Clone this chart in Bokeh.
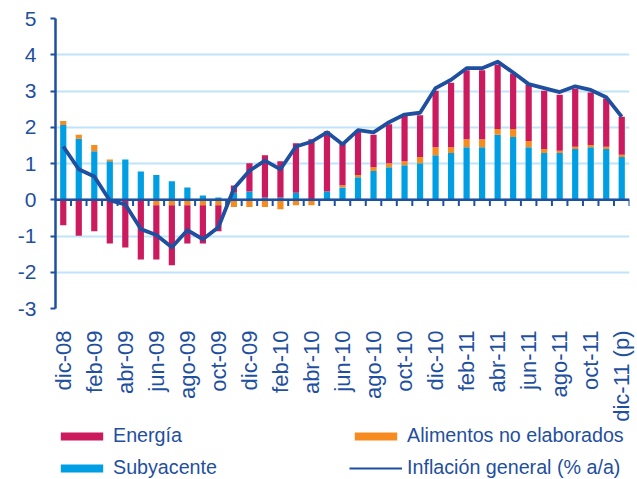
import math
from bokeh.plotting import figure
from bokeh.layouts import column
from bokeh.models import ColumnDataSource, FixedTicker, Span, Legend, LegendItem
from bokeh.embed import file_html
from bokeh.resources import INLINE

months = ["dic-08", "ene-09", "feb-09", "mar-09", "abr-09", "may-09", "jun-09", "jul-09",
          "ago-09", "sep-09", "oct-09", "nov-09", "dic-09", "ene-10", "feb-10", "mar-10",
          "abr-10", "may-10", "jun-10", "jul-10", "ago-10", "sep-10", "oct-10", "nov-10",
          "dic-10", "ene-11", "feb-11", "mar-11", "abr-11", "may-11", "jun-11", "jul-11",
          "ago-11", "sep-11", "oct-11", "nov-11", "dic-11 (p)"]

subyacente = [2.06, 1.68, 1.34, 1.06, 1.11, 0.78, 0.68, 0.51, 0.34, 0.12, 0.06, 0.19,
              0.23, 0.06, 0.06, 0.19, 0.00, 0.23, 0.34, 0.62, 0.79, 0.90, 0.95, 1.01,
              1.23, 1.29, 1.45, 1.45, 1.79, 1.73, 1.45, 1.29, 1.29, 1.40, 1.45, 1.40, 1.18]

alimentos = [0.11, 0.11, 0.17, 0.05, 0.00, 0.00, -0.15, -0.15, -0.15, -0.15, -0.15, -0.20,
             -0.20, -0.20, -0.26, -0.15, -0.15, 0.00, 0.06, 0.06, 0.11, 0.11, 0.11, 0.17,
             0.22, 0.16, 0.22, 0.22, 0.16, 0.22, 0.17, 0.11, 0.06, 0.06, 0.06, 0.06, 0.06]

energia = [-0.70, -0.99, -0.87, -1.21, -1.32, -1.65, -1.50, -1.66, -1.06, -1.06, -0.72, 0.20,
           0.78, 1.17, 1.00, 1.37, 1.67, 1.66, 1.16, 1.24, 0.89, 1.07, 1.27, 1.15,
           1.56, 1.78, 1.90, 1.90, 1.78, 1.53, 1.56, 1.61, 1.55, 1.60, 1.45, 1.33, 1.05]

inflacion = [1.47, 0.84, 0.64, -0.02, -0.13, -0.81, -0.97, -1.31, -0.84, -1.09, -0.76, 0.31,
             0.80, 1.08, 0.84, 1.47, 1.60, 1.86, 1.53, 1.92, 1.86, 2.14, 2.35, 2.40,
             3.08, 3.31, 3.63, 3.63, 3.81, 3.51, 3.19, 3.08, 2.97, 3.13, 3.03, 2.83, 2.29]

y_ticks = [-3, -2, -1, 0, 1, 2, 3, 4, 5]
y_tick_labels = ["-3", "-2", "-1", "0", "1", "2", "3", "4", "5"]

series_names = ["Energía", "Subyacente", "Alimentos no elaborados", "Inflación general (% a/a)"]

DARK = "#1F4F9F"
C_EN = "#CC1A5E"
C_AL = "#F68B1F"
C_SUB = "#009FE3"
GRID = "#BFE4F7"
FONT = "Liberation Sans"

n = len(months)
xs = list(range(n))

p = figure(width=637, height=424, x_range=(-0.5, n - 0.5), y_range=(-3, 5),
           output_backend="svg", toolbar_location=None,
           min_border_left=55, min_border_right=8, min_border_top=18, min_border_bottom=0)
p.outline_line_color = None
p.background_fill_color = "white"
p.border_fill_color = "white"

# stacking with separate positive / negative bases
pos = [0.0] * n
neg = [0.0] * n
for vals, col in [(subyacente, C_SUB), (alimentos, C_AL), (energia, C_EN)]:
    bottoms, tops = [], []
    for i, v in enumerate(vals):
        if v >= 0:
            bottoms.append(pos[i]); tops.append(pos[i] + v); pos[i] += v
        else:
            tops.append(neg[i]); bottoms.append(neg[i] + v); neg[i] += v
    src = ColumnDataSource(dict(x=xs, top=tops, bottom=bottoms))
    p.vbar(x="x", top="top", bottom="bottom", width=0.4, source=src,
           fill_color=col, line_color=None)

zero = Span(location=0, dimension="width", line_color=DARK, line_width=2.5)
p.add_layout(zero)
bounds = [i + 0.5 for i in range(n)]
p.segment(x0=bounds, y0=[0] * n, x1=bounds, y1=[-0.17] * n, line_color=DARK, line_width=2)

p.line(xs, inflacion, line_color=DARK, line_width=3.8, line_join="round")

# axes
p.yaxis.ticker = FixedTicker(ticks=y_ticks)
p.yaxis.major_label_overrides = dict(zip(y_ticks, y_tick_labels))
p.yaxis.axis_line_color = DARK
p.yaxis.axis_line_width = 2.5
p.yaxis.major_tick_line_color = DARK
p.yaxis.major_tick_line_width = 2
p.yaxis.major_tick_in = 0
p.yaxis.major_tick_out = 5
p.yaxis.minor_tick_line_color = None
p.yaxis.major_label_standoff = 14
p.yaxis.major_label_text_font = FONT
p.yaxis.major_label_text_font_size = "21px"
p.yaxis.major_label_text_color = DARK

p.xaxis.ticker = FixedTicker(ticks=list(range(0, n, 2)))
p.xaxis.major_label_overrides = {i: months[i] for i in range(0, n, 2)}
p.xaxis.axis_line_color = None
p.xaxis.major_tick_line_color = None
p.xaxis.minor_tick_line_color = None
p.xaxis.major_tick_in = 0
p.xaxis.major_tick_out = 0
p.xaxis.major_label_orientation = math.pi / 2
p.xaxis.major_label_standoff = 22
p.xaxis.major_label_text_font = FONT
p.xaxis.major_label_text_font_size = "22px"
p.xaxis.major_label_text_color = DARK

p.xgrid.visible = False
p.ygrid.ticker = FixedTicker(ticks=y_ticks)
p.ygrid.grid_line_color = GRID
p.ygrid.grid_line_width = 2

# legend strip
q = figure(width=637, height=55, x_range=(0, 1), y_range=(0, 1),
           output_backend="svg", toolbar_location=None,
           x_axis_location=None, y_axis_location=None, min_border=0)
q.outline_line_color = None
q.xgrid.visible = False
q.ygrid.visible = False
nan = [float("nan")]
r_en = q.vbar(x=nan, top=nan, width=0.1, fill_color=C_EN, line_color=None)
r_sub = q.vbar(x=nan, top=nan, width=0.1, fill_color=C_SUB, line_color=None)
r_al = q.vbar(x=nan, top=nan, width=0.1, fill_color=C_AL, line_color=None)
r_ln = q.line(x=nan, y=nan, line_color=DARK, line_width=2)

legend = Legend(items=[
    LegendItem(label=series_names[0], renderers=[r_en]),
    LegendItem(label=series_names[1], renderers=[r_sub]),
    LegendItem(label=series_names[2], renderers=[r_al]),
    LegendItem(label=series_names[3], renderers=[r_ln]),
], ncols=2, orientation="vertical", location=(0, 0))
legend.label_text_font = FONT
legend.label_text_font_size = "19.7px"
legend.label_text_color = DARK
legend.glyph_width = 53
legend.glyph_height = 10
legend.label_standoff = 5
legend.label_width = 227
legend.label_height = 23
legend.spacing = 9
legend.padding = 0
legend.margin = 0
legend.border_line_color = None
legend.background_fill_alpha = 0
q.add_layout(legend)

open("out.html", "w").write(file_html(column(p, q, spacing=0), INLINE))
